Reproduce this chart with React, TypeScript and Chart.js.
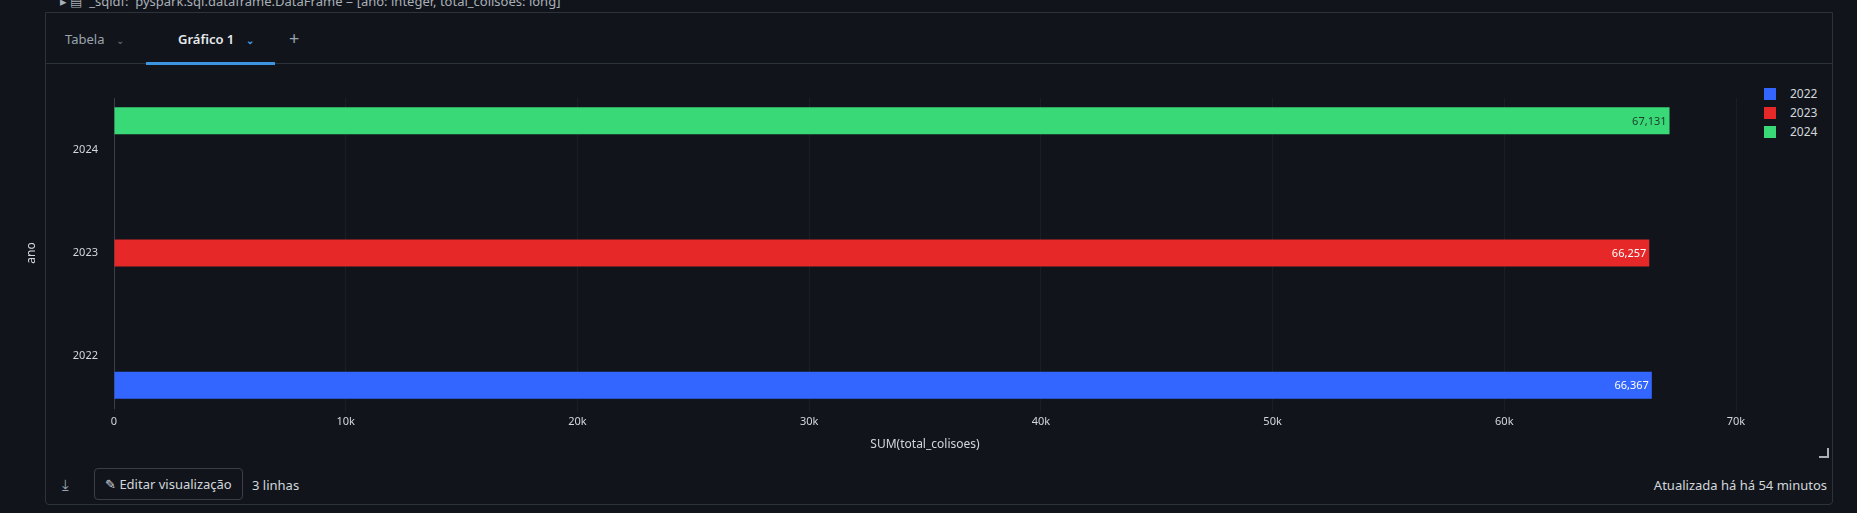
import { useEffect, useRef } from "react";
import Chart from "chart.js/auto";

const categories = ["2024", "2023", "2022"];
// one dataset per year, only its own category is filled
const seriesYears = ["2024", "2023", "2022"];
const seriesValues = [
  [67131, null, null],
  [null, 66257, null],
  [null, null, 66367],
];
const seriesColors = ["#3ad977", "#e62828", "#3366ff"];
const labelColors = ["#1f3b2a", "#ffffff", "#ffffff"];
const legendYears = ["2022", "2023", "2024"];
const legendColors = ["#3366ff", "#e62828", "#3ad977"];

const BG = "#11151b";
const TEXT = "#d3d7dc";
const FONT = "'Noto Sans', 'Open Sans', sans-serif";

const valueLabels = {
  id: "valueLabels",
  afterDatasetsDraw(chart: any) {
    const ctx = chart.ctx;
    ctx.save();
    ctx.font = `11px ${FONT}`;
    ctx.textAlign = "right";
    ctx.textBaseline = "middle";
    chart.data.datasets.forEach((ds: any, i: number) => {
      const meta = chart.getDatasetMeta(i);
      meta.data.forEach((el: any, j: number) => {
        const v = ds.data[j];
        if (v == null) return;
        ctx.fillStyle = labelColors[i];
        ctx.fillText(v.toLocaleString("en-US"), el.x - 3, el.y + 1);
      });
    });
    ctx.restore();
  },
};

function BarChart() {
  const ref = useRef<HTMLCanvasElement>(null);
  useEffect(() => {
    if (!ref.current) return;
    const chart = new Chart(ref.current, {
      type: "bar",
      data: {
        labels: categories,
        datasets: seriesYears.map((y, i) => ({
          label: y,
          data: seriesValues[i],
          backgroundColor: seriesColors[i],
          borderWidth: 0,
          categoryPercentage: 0.84,
          barPercentage: 0.93,
        })),
      },
      options: {
        indexAxis: "y",
        animation: false,
        responsive: false,
        layout: { padding: { top: 22, right: 24, left: 0, bottom: 0 } },
        plugins: { legend: { display: false }, tooltip: { enabled: false } },
        scales: {
          x: {
            min: 0,
            max: 70000,
            ticks: {
              stepSize: 10000,
              color: TEXT,
              font: { family: FONT, size: 11 },
              callback: (v: any) => (v === 0 ? "0" : v / 1000 + "k"),
            },
            grid: { color: "#1a1f26", tickLength: 4 },
            border: { display: false },
            title: { display: true, text: "SUM(total_colisoes)", color: TEXT, font: { family: FONT, size: 12 } },
            afterFit: (s: any) => { s.height = 48; },
          },
          y: {
            ticks: { color: TEXT, font: { family: FONT, size: 11 }, padding: 8 },
            grid: { display: false },
            border: { display: true, color: "#3a3f47" },
            title: { display: true, text: "ano", color: TEXT, font: { family: FONT, size: 12 } },
            afterFit: (s: any) => { s.width = 94; },
          },
        },
      },
      plugins: [valueLabels],
    });
    return () => chart.destroy();
  }, []);
  return <canvas ref={ref} width={1740} height={380} style={{ width: 1740, height: 380 }} />;
}

export default function App() {
  return (
    <div style={{ position: "fixed", left: 0, top: 0, width: 1857, height: 513, background: BG, overflow: "hidden", fontFamily: FONT, color: TEXT }}>
      <div style={{ position: "absolute", left: 60, top: -8, fontSize: 13, color: "#aab0b8", whiteSpace: "nowrap" }}>
        ▸ ▤ &nbsp;_sqldf: &nbsp;pyspark.sql.dataframe.DataFrame = [ano: integer, total_colisoes: long]
      </div>
      <div style={{ position: "absolute", left: 45, top: 12, width: 1788, height: 493, boxSizing: "border-box", border: "1px solid #2d333b", borderRadius: "0 0 4px 4px" }} />
      <div style={{ position: "absolute", left: 45, top: 63, width: 1788, height: 1, background: "#2d333b" }} />
      <div style={{ position: "absolute", left: 65, top: 30, fontSize: 13, color: "#9aa3ad" }}>Tabela <span style={{ marginLeft: 8, fontSize: 10, color: "#6b737c" }}>⌄</span></div>
      <div style={{ position: "absolute", left: 178, top: 30, fontSize: 13, fontWeight: 600, color: "#e6e9ec" }}>Gráfico 1 <span style={{ marginLeft: 8, fontSize: 10, color: "#4a9be6" }}>⌄</span></div>
      <div style={{ position: "absolute", left: 146, top: 62, width: 129, height: 3, background: "#3d94e0" }} />
      <div style={{ position: "absolute", left: 289, top: 26, fontSize: 18, color: "#9aa3ad" }}>+</div>
      <div style={{ position: "absolute", left: 20, top: 76 }}>
        <BarChart />
      </div>
      <div style={{ position: "absolute", left: 1764, top: 84, fontSize: 12 }}>
        {legendYears.map((y, i) => (
          <div key={y} style={{ display: "flex", alignItems: "center", height: 19 }}>
            <span style={{ width: 12, height: 12, background: legendColors[i], display: "inline-block", marginRight: 14 }} />
            {y}
          </div>
        ))}
      </div>
      <div style={{ position: "absolute", left: 1819, top: 448, width: 8, height: 8, borderRight: "2px solid #aab0b8", borderBottom: "2px solid #aab0b8" }} />
      <div style={{ position: "absolute", left: 62, top: 474, fontSize: 15, color: "#9aa3ad" }}>⤓</div>
      <div style={{ position: "absolute", left: 94, top: 468, width: 149, height: 32, border: "1px solid #3a3f47", borderRadius: 4, boxSizing: "border-box", display: "flex", alignItems: "center", paddingLeft: 10, fontSize: 13 }}>
        ✎&nbsp;Editar visualização
      </div>
      <div style={{ position: "absolute", left: 252, top: 476, fontSize: 13 }}>3 linhas</div>
      <div style={{ position: "absolute", right: 30, top: 476, fontSize: 13 }}>Atualizada há há 54 minutos</div>
    </div>
  );
}
